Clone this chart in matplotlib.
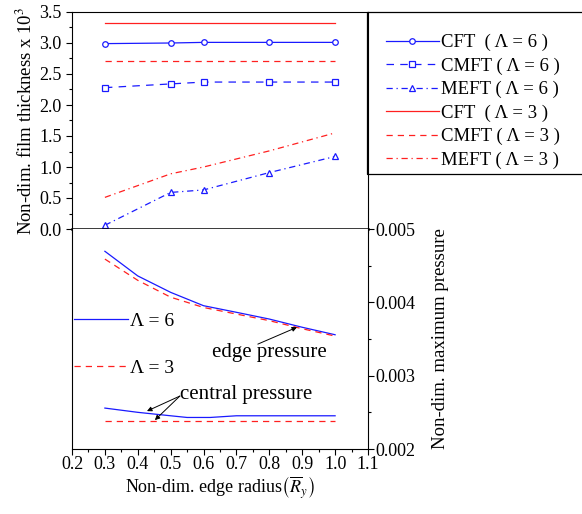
import matplotlib
matplotlib.use("Agg")
import matplotlib.pyplot as plt
from matplotlib.patches import Rectangle
from matplotlib.ticker import MultipleLocator, FormatStrFormatter

plt.rcParams["font.family"] = ["Liberation Serif", "DejaVu Serif"]
plt.rcParams["mathtext.fontset"] = "stix"
plt.rcParams["font.size"] = 13

# film thickness (x 10^3) vs. edge radius
r_pts = [0.3, 0.5, 0.6, 0.8, 1.0]
cft6 = [2.99, 3.00, 3.01, 3.01, 3.01]
cmft6 = [2.28, 2.34, 2.37, 2.37, 2.37]
meft6 = [0.06, 0.59, 0.63, 0.91, 1.17]
r_line = [0.3, 1.0]
cft3 = [3.32, 3.32]
cmft3 = [2.71, 2.71]
meft3 = [0.51, 0.89, 1.00, 1.26, 1.55]

# maximum pressure vs. edge radius
r_p = [0.3, 0.4, 0.5, 0.6, 0.7, 0.8, 0.9, 1.0]
edge6 = [0.004696, 0.004360, 0.004136, 0.003954, 0.003864, 0.003772, 0.003660, 0.003558]
edge3 = [0.004590, 0.004300, 0.004070, 0.003930, 0.003840, 0.003750, 0.003640, 0.003540]
r_c = [0.3, 0.4, 0.5, 0.55, 0.62, 0.7, 0.8, 0.9, 1.0]
central6 = [0.002558, 0.002500, 0.002453, 0.002430, 0.002430, 0.002453, 0.002453, 0.002453, 0.002453]
r_c3 = [0.3, 1.0]
central3 = [0.002385, 0.002385]

blue = "#1a1aff"
red = "#ff2020"

fig = plt.figure(figsize=(5.82, 5.14), dpi=100)
W, H = 582, 514
ax1 = fig.add_axes([72 / W, 1 - 229 / H, 296 / W, 217 / H])
ax2 = fig.add_axes([72 / W, 1 - 449 / H, 296 / W, 220 / H])

lw = 0.9
ax1.plot(r_pts, cft6, color=blue, lw=lw, marker="o", ms=4, mfc="white", mew=0.9,
         label="CFT  ( Λ = 6 )")
ax1.plot(r_pts, cmft6, color=blue, lw=lw, ls=(0, (6, 5)), marker="s", ms=4, mfc="white", mew=0.9,
         label="CMFT ( Λ = 6 )")
ax1.plot(r_pts, meft6, color=blue, lw=lw, ls=(0, (5, 3, 1, 3)), marker="^", ms=4, mfc="white", mew=0.9,
         label="MEFT ( Λ = 6 )")
ax1.plot(r_line, cft3, color=red, lw=lw, label="CFT  ( Λ = 3 )")
ax1.plot(r_line, cmft3, color=red, lw=lw, ls=(0, (5, 4)), label="CMFT ( Λ = 3 )")
ax1.plot(r_pts, meft3, color=red, lw=lw, ls=(0, (5, 3, 1, 3)), label="MEFT ( Λ = 3 )")

ax1.set_xlim(0.2, 1.1)
ax1.set_ylim(0, 3.5)
ax1.xaxis.set_major_locator(MultipleLocator(0.1))
ax1.yaxis.set_major_locator(MultipleLocator(0.5))
ax1.yaxis.set_minor_locator(MultipleLocator(0.25))
ax1.tick_params(axis="x", which="both", direction="out", length=3, width=0.8, labelbottom=False)
ax1.tick_params(axis="y", which="major", direction="out", length=4, width=0.8)
ax1.tick_params(axis="y", which="minor", direction="out", length=2, width=0.8)
ax1.yaxis.set_major_formatter(FormatStrFormatter("%.1f"))
for s in ax1.spines.values():
    s.set_linewidth(0.8)
ax1.spines["bottom"].set_linewidth(1.8)
ax1.set_ylabel(r"Non-dim. film thickness x 10$^3$", fontsize=13.5, labelpad=2)

e6, = ax2.plot(r_p, edge6, color=blue, lw=lw, label="Λ = 6")
e3, = ax2.plot(r_p, edge3, color=red, lw=lw, ls=(0, (5, 4)), label="Λ = 3")
ax2.plot(r_c, central6, color=blue, lw=lw)
ax2.plot(r_c3, central3, color=red, lw=lw, ls=(0, (5, 4)))

ax2.set_xlim(0.2, 1.1)
ax2.set_ylim(0.002, 0.005)
ax2.xaxis.set_major_locator(MultipleLocator(0.1))
ax2.xaxis.set_minor_locator(MultipleLocator(0.05))
ax2.yaxis.set_major_locator(MultipleLocator(0.001))
ax2.yaxis.set_minor_locator(MultipleLocator(0.0005))
ax2.xaxis.set_major_formatter(FormatStrFormatter("%.1f"))
ax2.yaxis.set_major_formatter(FormatStrFormatter("%.3f"))
ax2.yaxis.tick_right()
ax2.yaxis.set_label_position("right")
ax2.tick_params(which="major", direction="out", length=4, width=0.8, pad=1)
ax2.tick_params(which="minor", direction="out", length=2, width=0.8)
ax2.tick_params(axis="x", which="both", top=False)
for s in ax2.spines.values():
    s.set_linewidth(0.8)
ax2.spines["top"].set_visible(False)
ax2.set_ylabel("Non-dim. maximum pressure", fontsize=13.5, rotation=90, labelpad=12)
ax2.set_xlabel(r"Non-dim. edge radius$\left(\overline{R}_y\right)$", fontsize=13, labelpad=1)

ax2.legend(handles=[e6, e3], loc="upper left", bbox_to_anchor=(0.0, 0.63),
           frameon=False, handlelength=2.8, handletextpad=0.1, labelspacing=1.5,
           borderaxespad=0, borderpad=0.1, fontsize=14)

arrow = dict(arrowstyle="-|>", color="black", lw=0.7, mutation_scale=7, shrinkA=0, shrinkB=0)
ax2.text(0.80, 0.00331, "edge pressure", ha="center", va="center", fontsize=15)
ax2.annotate("", xy=(0.884, 0.00366), xytext=(0.765, 0.00343), arrowprops=arrow)
ax2.text(0.729, 0.002745, "central pressure", ha="center", va="center", fontsize=15)
ax2.annotate("", xy=(0.428, 0.002517), xytext=(0.528, 0.002722), arrowprops=arrow)
ax2.annotate("", xy=(0.452, 0.002394), xytext=(0.528, 0.002722), arrowprops=arrow)

# legend panel on the right of the thickness plot
fig.add_artist(Rectangle((367 / W, 1 - 174 / H), 260 / W, 162 / H, transform=fig.transFigure,
                         fill=False, lw=0.9, ec="black", clip_on=False))
fig.legend(*ax1.get_legend_handles_labels(), loc="upper left",
           bbox_to_anchor=(386 / W, 1 - 34 / H), frameon=False, handlelength=2.8,
           handletextpad=0.15, labelspacing=0.33, borderaxespad=0, borderpad=0, fontsize=13.5)

fig.savefig("out.png", dpi=100)
